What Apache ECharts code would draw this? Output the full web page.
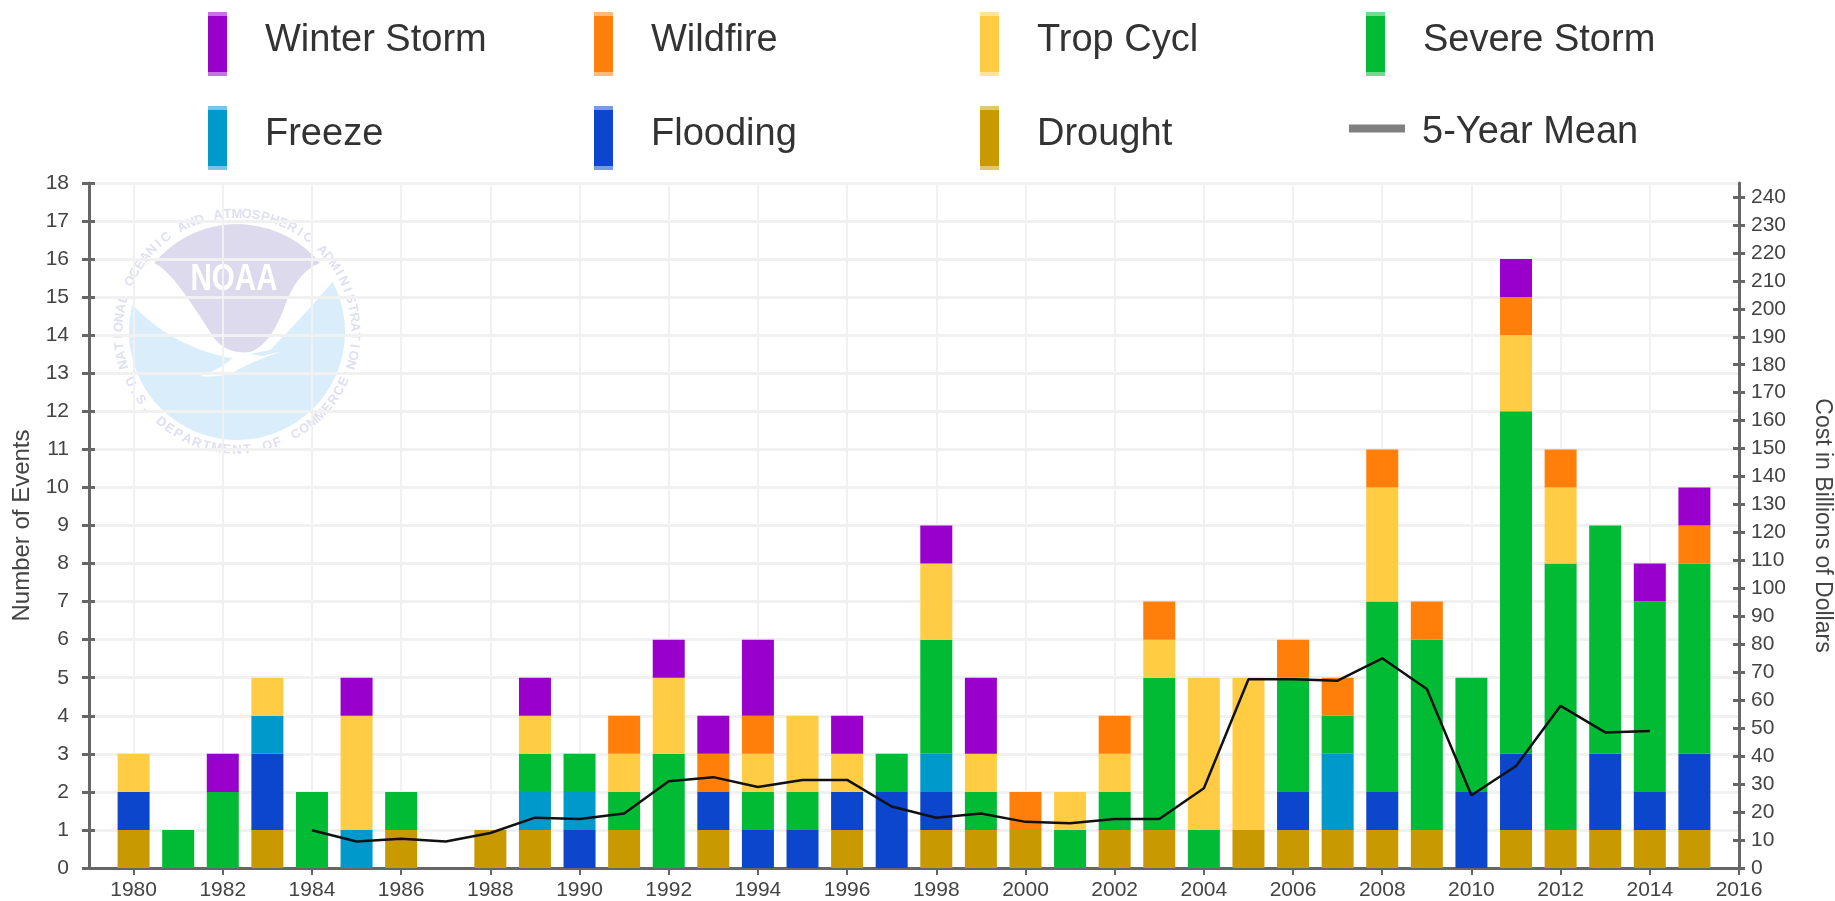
<!DOCTYPE html>
<html>
<head>
<meta charset="utf-8">
<style>
  html, body { margin: 0; padding: 0; background: #fff; }
  #chart { width: 1835px; height: 901px; }
</style>
<script src="https://cdn.jsdelivr.net/npm/echarts@6/dist/echarts.min.js"></script>
</head>
<body>
<div id="chart"></div>
<script>
const years = []
for (let y = 1979; y <= 2016; y++) years.push(String(y))

// one value per year, 1979 (empty lead-in) to 2016
const drought = [0, 1, 0, 0, 1, 0, 0, 1, 0, 1, 1, 0, 1, 0, 1, 0, 0, 1, 0, 1, 1, 1, 0, 1, 1, 0, 1, 1, 1, 1, 1, 0, 1, 1, 1, 1, 1, 0]
const flooding = [0, 1, 0, 0, 2, 0, 0, 0, 0, 0, 0, 1, 0, 0, 1, 1, 1, 1, 2, 1, 0, 0, 0, 0, 0, 0, 0, 1, 0, 1, 0, 2, 2, 0, 2, 1, 2, 0]
const freeze = [0, 0, 0, 0, 1, 0, 1, 0, 0, 0, 1, 1, 0, 0, 0, 0, 0, 0, 0, 1, 0, 0, 0, 0, 0, 0, 0, 0, 2, 0, 0, 0, 0, 0, 0, 0, 0, 0]
const severeStorm = [0, 0, 1, 2, 0, 2, 0, 1, 0, 0, 1, 1, 1, 3, 0, 1, 1, 0, 1, 3, 1, 0, 1, 1, 4, 1, 0, 3, 1, 5, 5, 3, 9, 7, 6, 5, 5, 0]
const tropCycl = [0, 1, 0, 0, 1, 0, 3, 0, 0, 0, 1, 0, 1, 2, 0, 1, 2, 1, 0, 2, 1, 0, 1, 1, 1, 4, 4, 0, 0, 3, 0, 0, 2, 2, 0, 0, 0, 0]
const wildfire = [0, 0, 0, 0, 0, 0, 0, 0, 0, 0, 0, 0, 1, 0, 1, 1, 0, 0, 0, 0, 0, 1, 0, 1, 1, 0, 0, 1, 1, 1, 1, 0, 1, 1, 0, 0, 1, 0]
const winterStorm = [0, 0, 0, 1, 0, 0, 1, 0, 0, 0, 1, 0, 0, 1, 1, 2, 0, 1, 0, 1, 2, 0, 0, 0, 0, 0, 0, 0, 0, 0, 0, 0, 1, 0, 0, 1, 1, 0]
const fiveYearMean = [null, null, null, null, null, 13.5, 9.5, 10.5, 9.5, 12.5, 18, 17.5, 19.5, 31, 32.5, 29, 31.5, 31.5, 22, 18, 19.5, 16.5, 16, 17.5, 17.5, 28.5, 67.5, 67.5, 67, 75, 64, 26, 36.5, 58, 48.5, 49, null, null]
const costTicks = []
for (let c = 0; c <= 240; c += 10) costTicks.push(c)

const stacks = [
  { name: 'Drought', data: drought, color: '#c89900' },
  { name: 'Flooding', data: flooding, color: '#0c46cc' },
  { name: 'Freeze', data: freeze, color: '#0099cc' },
  { name: 'Severe Storm', data: severeStorm, color: '#00bb33' },
  { name: 'Trop Cycl', data: tropCycl, color: '#ffcc44' },
  { name: 'Wildfire', data: wildfire, color: '#ff7f0a' },
  { name: 'Winter Storm', data: winterStorm, color: '#9900cc' }
]
const legendRows = [
  ['Winter Storm', 'Wildfire', 'Trop Cycl', 'Severe Storm'],
  ['Freeze', 'Flooding', 'Drought']
]

const font = 'Arial, "Liberation Sans", sans-serif'
const axisColor = '#666666'
const gridColor = '#f1f1f1'
const evenYear = (i, name) => Number(name) % 2 === 0

function legendSwatch(color) {
  // the swatches have a paler cap at both ends
  const pale = echarts.color.modifyAlpha(color, 0.55)
  return new echarts.graphic.LinearGradient(0, 0, 0, 1, [
    { offset: 0, color: pale },
    { offset: 0.06, color: pale },
    { offset: 0.06, color: color },
    { offset: 0.94, color: color },
    { offset: 0.94, color: pale },
    { offset: 1, color: pale }
  ])
}

// rich text with an empty spacer line nudges the label off the marker's centre
function legendText(spacer, left) {
  return {
    fontFamily: font,
    fontSize: 38,
    color: '#333333',
    rich: {
      t: { fontFamily: font, fontSize: 38, color: '#333333', padding: [0, 0, 0, left] },
      s: { fontSize: 1, height: spacer, lineHeight: spacer }
    }
  }
}

// ECharts only lays legends out in a flow, so each column gets its own one
function buildLegends() {
  const legends = []
  legendRows.forEach((row, r) => {
    row.forEach((name, c) => {
      legends.push({
        left: 208 + c * 386,
        top: 12 + r * 94,
        padding: 0,
        itemWidth: 19,
        itemHeight: 64,
        icon: 'rect',
        selectedMode: false,
        data: [{ name: name, itemStyle: { color: legendSwatch(stacks.find(s => s.name === name).color) } }],
        formatter: n => '{t|' + n + '}\n{s| }',
        textStyle: legendText(7, 33)
      })
    })
  })
  legends.push({
    left: 1349,
    top: 105,
    padding: 0,
    itemWidth: 56,
    itemHeight: 8,
    icon: 'rect',
    selectedMode: false,
    data: [{ name: '5-Year Mean', itemStyle: { color: '#808080' } }],
    formatter: n => '{s| }\n{t|' + n + '}',
    textStyle: legendText(9, 12)
  })
  return legends
}

// faded NOAA emblem behind the plot
echarts.graphic.registerShape('logoBand', echarts.graphic.extendPath('M125 296 Q165 345 230 358 L270 350 Q300 320 336 278 L330 200 L140 200 Z', {}))
echarts.graphic.registerShape('logoTop', echarts.graphic.extendPath('M154 263 A108 108 0 0 1 320 263 Q300 270 287 300 Q272 345 250 352 Q225 355 212 335 Q190 300 178 285 Q165 268 154 263 Z', {}))
echarts.graphic.registerShape('logoGull', echarts.graphic.extendPath('M200 376 Q225 368 238 352 L262 356 L283 351 Q250 362 232 373 Q215 378 200 376 Z', {}))

function noaaLogo() {
  const cx = 237
  const cy = 332
  const ringColor = '#dfe0f0'
  const items = [
    { type: 'circle', z: -10, shape: { cx: cx, cy: cy, r: 108 }, style: { fill: '#d9eefa' } },
    { type: 'logoBand', z: -9, style: { fill: '#ffffff' } },
    { type: 'logoTop', z: -8, style: { fill: '#dcdaec' } },
    { type: 'logoGull', z: -7, style: { fill: '#ffffff' } },
    { type: 'text', z: -6, x: cx - 3, y: 280, scaleX: 0.82, style: { text: 'NOAA', fill: '#ffffff', font: 'bold 36px Arial, "Liberation Sans"', align: 'center', verticalAlign: 'middle' } }
  ]
  const ringText = (text, from, to, radius, flip) => {
    const chars = text.split('')
    chars.forEach((ch, i) => {
      const deg = from + (to - from) * i / (chars.length - 1)
      const a = deg * Math.PI / 180
      items.push({
        type: 'text',
        z: -6,
        x: cx + radius * Math.sin(a),
        y: cy - radius * Math.cos(a),
        rotation: flip ? -a + Math.PI : -a,
        style: { text: ch, fill: ringColor, font: 'bold 13px Arial, "Liberation Sans"', align: 'center', verticalAlign: 'middle' }
      })
    })
  }
  ringText('NATIONAL OCEANIC AND ATMOSPHERIC ADMINISTRATION', -106, 106, 118, false)
  ringText('U.S. DEPARTMENT OF COMMERCE', 245, 115, 118, true)
  return items
}

const series = stacks.map(s => ({
  name: s.name,
  type: 'bar',
  stack: 'events',
  barWidth: 32,
  xAxisIndex: 0,
  yAxisIndex: 0,
  data: s.data,
  itemStyle: { color: s.color }
}))
series.push({
  name: '5-Year Mean',
  type: 'line',
  xAxisIndex: 0,
  yAxisIndex: 1,
  data: fiveYearMean,
  showSymbol: false,
  symbol: 'none',
  connectNulls: false,
  z: 5,
  lineStyle: { color: '#111111', width: 2.5 }
})

const option = {
  animation: false,
  backgroundColor: '#ffffff',
  textStyle: { fontFamily: font },
  graphic: { elements: noaaLogo() },
  grid: { left: 89, right: 96, top: 183, bottom: 33, containLabel: false, outerBoundsMode: 'none' },
  legend: buildLegends(),
  xAxis: {
    type: 'category',
    data: years,
    boundaryGap: false,
    axisLine: { lineStyle: { color: axisColor, width: 3 } },
    axisTick: { interval: evenYear, length: 7, lineStyle: { color: axisColor, width: 2 } },
    axisLabel: { interval: evenYear, margin: 12, fontSize: 21, color: '#444444', hideOverlap: false },
    splitLine: { show: true, interval: evenYear, lineStyle: { color: gridColor, width: 2 } }
  },
  yAxis: [{
    type: 'value',
    name: 'Number of Events',
    nameLocation: 'middle',
    nameGap: 55,
    nameTextStyle: { fontSize: 24, color: '#444444' },
    min: 0,
    max: 18,
    interval: 1,
    axisLine: { show: true, lineStyle: { color: axisColor, width: 3 } },
    axisTick: { show: true, length: 7, lineStyle: { color: axisColor, width: 3 } },
    axisLabel: { margin: 20, fontSize: 21, color: '#444444' },
    splitLine: { show: true, lineStyle: { color: gridColor, width: 3 } }
  }, {
    type: 'value',
    position: 'right',
    name: 'Cost in Billions of Dollars',
    nameLocation: 'middle',
    nameGap: 72,
    nameRotate: -90,
    nameTextStyle: { fontSize: 23, color: '#444444' },
    min: 0,
    max: 245,
    alignTicks: false,
    axisLine: { show: true, lineStyle: { color: axisColor, width: 3 } },
    axisTick: { show: true, length: 6, customValues: costTicks, lineStyle: { color: axisColor, width: 3 } },
    axisLabel: { margin: 12, fontSize: 21, color: '#444444', customValues: costTicks },
    splitLine: { show: false }
  }, {
    // inner half of the left ticks
    type: 'value',
    position: 'left',
    min: 0,
    max: 18,
    interval: 1,
    axisLine: { show: false },
    axisTick: { show: true, inside: true, length: 6, lineStyle: { color: axisColor, width: 3 } },
    axisLabel: { show: false },
    splitLine: { show: false }
  }, {
    // inner half of the right ticks
    type: 'value',
    position: 'right',
    min: 0,
    max: 245,
    alignTicks: false,
    axisLine: { show: false },
    axisTick: { show: true, inside: true, length: 6, customValues: costTicks, lineStyle: { color: axisColor, width: 3 } },
    axisLabel: { show: false },
    splitLine: { show: false }
  }],
  series: series
}

const chart = echarts.init(document.getElementById('chart'))
chart.setOption(option)
</script>
</body>
</html>
